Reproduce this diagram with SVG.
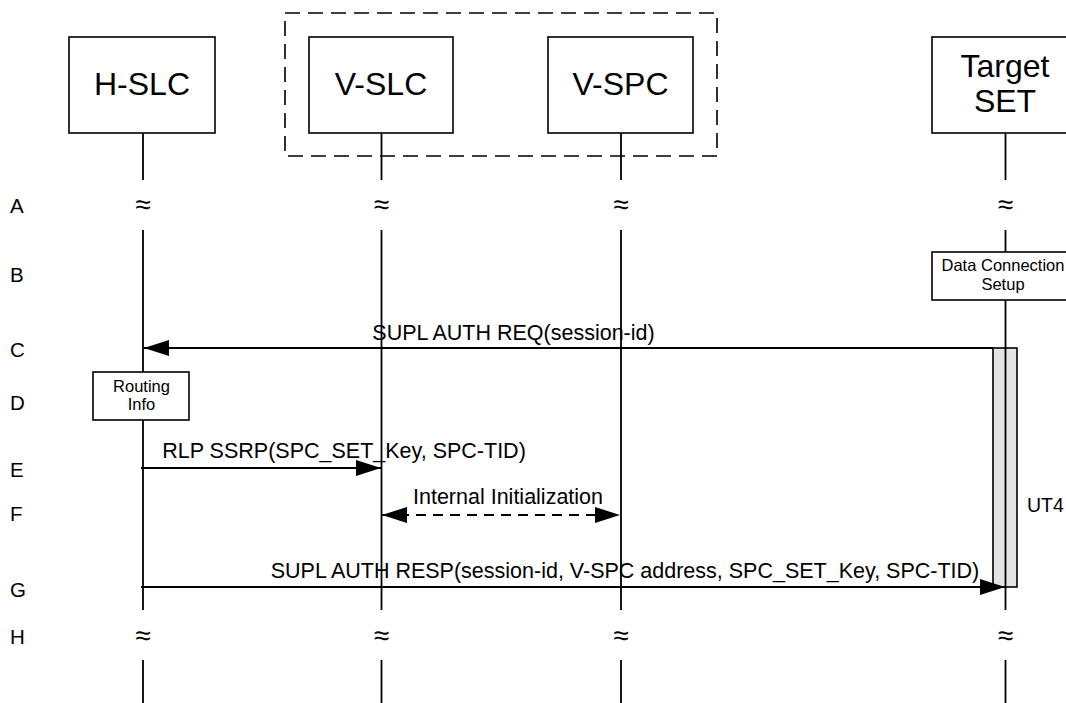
<svg xmlns="http://www.w3.org/2000/svg" width="1066" height="703" viewBox="0 0 1066 703">
<style>
text{font-family:"Liberation Sans",Arial,sans-serif;fill:#000}
.box{fill:#fff;stroke:#000;stroke-width:1.6}
.t30{font-size:32px;text-anchor:middle}
.t16{font-size:16.5px;text-anchor:middle}
.msg{font-size:21.5px;text-anchor:middle}
.row{font-size:20.5px}
.life{stroke:#000;stroke-width:1.8;fill:none}
.wave{font-size:28px;text-anchor:middle}
.arrow{stroke:#000;stroke-width:1.8;fill:none}
</style>
<defs>
<marker id="ah" markerUnits="userSpaceOnUse" markerWidth="26" markerHeight="18" refX="25" refY="8" orient="auto-start-reverse" viewBox="0 0 26 16">
<path d="M0,0 L25,8 L0,16 Z" fill="#000"/>
</marker>
</defs>
<rect x="285" y="13" width="432" height="143" fill="none" stroke="#000" stroke-width="1.6" stroke-dasharray="15,8"/>
<g id="rows">
<text class="row" x="10" y="213">A</text>
<text class="row" x="10" y="282">B</text>
<text class="row" x="10" y="357">C</text>
<text class="row" x="10" y="410">D</text>
<text class="row" x="10" y="477">E</text>
<text class="row" x="10" y="521">F</text>
<text class="row" x="10" y="597">G</text>
<text class="row" x="10" y="644">H</text>
</g>
<g id="hslc">
<rect class="box" x="69" y="37" width="146" height="96"/>
<text class="t30" x="142" y="95">H-SLC</text>
<path class="life" d="M143,133 V180 M143,230 V610 M143,660 V703"/>
<text class="wave" x="143" y="214">≈</text>
<text class="wave" x="143" y="645">≈</text>
</g>
<g id="vslc">
<rect class="box" x="309" y="37" width="144" height="96"/>
<text class="t30" x="381" y="95">V-SLC</text>
<path class="life" d="M381.5,133 V180 M381.5,230 V610 M381.5,660 V703"/>
<text class="wave" x="381.5" y="214">≈</text>
<text class="wave" x="381.5" y="645">≈</text>
</g>
<g id="vspc">
<rect class="box" x="548" y="37" width="145" height="96"/>
<text class="t30" x="620.5" y="95">V-SPC</text>
<path class="life" d="M621,133 V180 M621,230 V610 M621,660 V703"/>
<text class="wave" x="621" y="214">≈</text>
<text class="wave" x="621" y="645">≈</text>
</g>
<g id="target">
<rect class="box" x="932" y="37" width="146" height="96"/>
<text class="t30" x="1005" y="77">Target</text>
<text class="t30" x="1005" y="112">SET</text>
<rect x="993" y="348" width="24" height="239" fill="#e4e4e4" stroke="#000" stroke-width="1.6"/>
<path class="life" d="M1005.5,133 V180 M1005.5,230 V610 M1005.5,660 V703"/>
<text class="wave" x="1005.5" y="214">≈</text>
<text class="wave" x="1005.5" y="645">≈</text>
</g>
<g id="dcs">
<rect class="box" x="932" y="252" width="146" height="48"/>
<text class="t16" x="1003" y="271">Data Connection</text>
<text class="t16" x="1003" y="290">Setup</text>
</g>
<g id="routing">
<rect class="box" x="93" y="372" width="96" height="48"/>
<text class="t16" x="141.5" y="392">Routing</text>
<text class="t16" x="141.5" y="410">Info</text>
</g>
<g id="connectors">
<line class="arrow" x1="993" y1="348" x2="144" y2="348" marker-end="url(#ah)"/>
<text class="msg" x="513.5" y="340">SUPL AUTH REQ(session-id)</text>
<line class="arrow" x1="141" y1="468" x2="381" y2="468" marker-end="url(#ah)"/>
<text class="msg" x="344" y="458">RLP SSRP(SPC_SET_Key, SPC-TID)</text>
<line class="arrow" x1="382" y1="515" x2="620" y2="515" stroke-dasharray="10,7" marker-start="url(#ah)" marker-end="url(#ah)"/>
<text class="msg" x="508" y="504">Internal Initialization</text>
<line class="arrow" x1="141" y1="587" x2="1005" y2="587" marker-end="url(#ah)"/>
<text class="msg" x="625" y="578">SUPL AUTH RESP(session-id, V-SPC address, SPC_SET_Key, SPC-TID)</text>
</g>
<text x="1027" y="512" style="font-size:19.5px">UT4</text>
</svg>
